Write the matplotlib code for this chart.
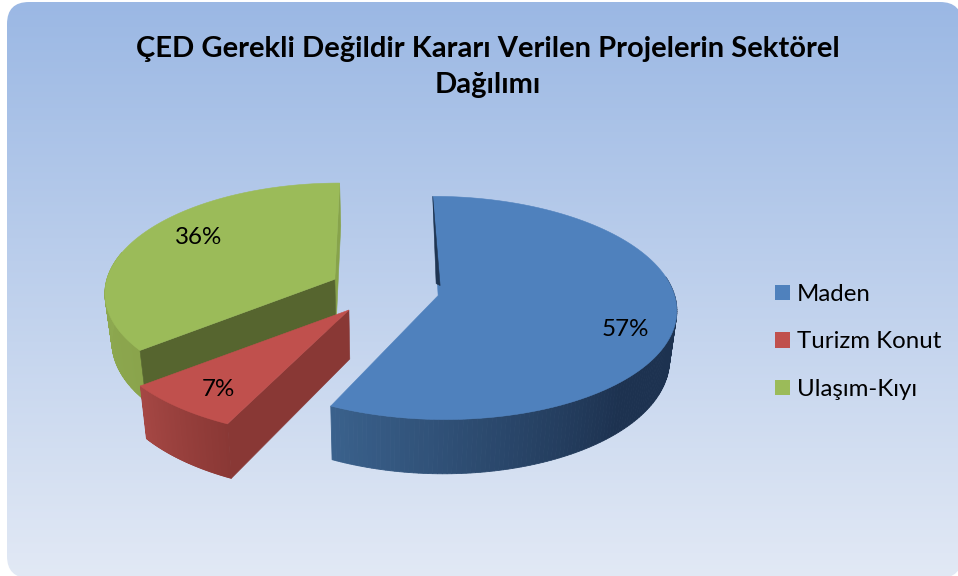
import numpy as np
import matplotlib
matplotlib.use('Agg')
import matplotlib.pyplot as plt
from matplotlib.colors import LinearSegmentedColormap, to_rgb
from matplotlib.patches import FancyBboxPatch, Patch, Polygon

plt.rcParams['font.family'] = ['Lato', 'DejaVu Sans']

title = 'ÇED Gerekli Değildir Kararı Verilen Projelerin Sektörel\nDağılımı'
categories = ['Maden', 'Turizm Konut', 'Ulaşım-Kıyı']
values = [57.1, 7.2, 35.7]
labels = ['57%', '7%', '36%']
colors = ['#4F81BD', '#C0504D', '#9BBB59']

# pie shape, in pixels of the picture
CX, CY = 384, 290
RX, RY = 240, 109
PERSP = 0.11
EXPLODE = 0.23
DEPTH = 48
BOTTOM_SCALE = 0.975
START = 90
x_scale = [0.98, 1.0, 0.96]

label_pos = [(625, 330), (218, 390), (199, 237)]


def project(u, v, bottom=False):
    s = 1 / (1 + PERSP * v)
    x = CX + RX * u * s
    y = CY - RY * v * s
    if bottom:
        x = CX + (x - CX) * BOTTOM_SCALE
        y = y + DEPTH * s
    return x, y


def slice_points(a1, a2, k, bottom=False):
    mid = np.radians((starts[k] + ends[k]) / 2)
    ox, oy = EXPLODE * np.cos(mid), EXPLODE * np.sin(mid)
    t = np.radians(np.linspace(a1, a2, 120))
    ax_, ay_ = project(ox, oy, bottom)
    x, y = project(ox + x_scale[k] * np.cos(t), oy + np.sin(t), bottom)
    return (ax_, ay_), x, y


def wall(ax, a1, a2, k, c1, c2, zorder, hold=0.0):
    # outer rim, drawn as narrow strips so it can shade along the arc
    _, xt, yt = slice_points(a1, a2, k)
    _, xb, yb = slice_points(a1, a2, k, True)
    n = len(xt) - 1
    for i in range(n):
        f = np.clip((i / (n - 1) - hold) / (1 - hold), 0, 1)
        c = (1 - f) * np.array(to_rgb(c1)) + f * np.array(to_rgb(c2))
        pts = [(xt[i], yt[i]), (xt[i + 1], yt[i + 1]), (xb[i + 1], yb[i + 1]), (xb[i], yb[i])]
        ax.add_patch(Polygon(pts, closed=True, fc=c, ec=c, lw=0.6, zorder=zorder))


def flat(ax, pts, c, zorder):
    ax.add_patch(Polygon(pts, closed=True, fc=c, ec=c, lw=0.4, zorder=zorder))


fig = plt.figure(figsize=(9.58, 5.76), dpi=100, facecolor='white')
ax = fig.add_axes([0, 0, 1, 1])
ax.axis('off')

# panel with vertical gradient
cmap = LinearSegmentedColormap.from_list('panel', ['#9BB8E4', '#E2E9F5'])
grad = np.linspace(0, 1, 256).reshape(-1, 1)
im = ax.imshow(grad, cmap=cmap, extent=(7, 962, 578, 2), aspect='auto', zorder=0)
panel = FancyBboxPatch((7, 2), 955, 576, boxstyle='round,pad=0,rounding_size=22',
                       fc='none', ec='none', transform=ax.transData)
ax.add_patch(panel)
im.set_clip_path(panel)
ax.set_xlim(0, 958)
ax.set_ylim(576, 0)

# slice angles from the values, clockwise from the top
sweeps = np.array(values) / np.sum(values) * 360
ends = START - np.cumsum(sweeps)
starts = ends + sweeps

# green, at the back. starts[2] is the front corner, ends[2] the top one
a1, a2 = starts[2], ends[2]
apex, x, y = slice_points(a1, a2, 2)
apex_b, xb, yb = slice_points(a1, a2, 2, True)
wall(ax, a1, -195, 2, '#8AA44C', '#8FAB52', 2)
flat(ax, [(x[-1], y[-1]), apex, apex_b, (xb[-1], yb[-1])], '#87A34B', 2)
flat(ax, [apex, (x[0], y[0]), (xb[0], yb[0]), apex_b], '#56652F', 3)
flat(ax, [apex] + list(zip(x, y)), colors[2], 4)

# red
a1, a2 = starts[1], ends[1]
apex, x, y = slice_points(a1, a2, 1)
apex_b, xb, yb = slice_points(a1, a2, 1, True)
wall(ax, a1, a2, 1, '#8A3835', '#A54744', 5)
flat(ax, [apex, (x[0], y[0]), (xb[0], yb[0]), apex_b], '#893835', 6)
flat(ax, [apex] + list(zip(x, y)), colors[1], 7)

# blue
a1, a2 = starts[0], ends[0]
apex, x, y = slice_points(a1, a2, 0)
wall(ax, 10, a2, 0, '#1D3250', '#3A618C', 8, hold=0.45)
flat(ax, [apex] + list(zip(x, y)), colors[0], 9)
flat(ax, [(x[0], y[0]), (apex[0] - 2, apex[1] - 12), (apex[0] + 2, apex[1] - 10)], '#1F3552', 10)

for pos, lab in zip(label_pos, labels):
    ax.text(pos[0], pos[1], lab, ha='center', va='center', fontsize=17.4, color='black', zorder=12)

ax.text(488, 67, title, ha='center', va='center', fontsize=21, fontweight='bold',
        color='black', linespacing=1.45, zorder=12)

handles = [Patch(fc=c, ec='none') for c in colors]
ax.legend(handles, categories, loc='center left', bbox_to_anchor=(775, 342),
          bbox_transform=ax.transData, frameon=False, fontsize=17.3,
          handlelength=0.62, handleheight=0.62, handletextpad=0.3, labelspacing=1.1,
          borderaxespad=0, borderpad=0)

fig.savefig('out.png', dpi=100)
